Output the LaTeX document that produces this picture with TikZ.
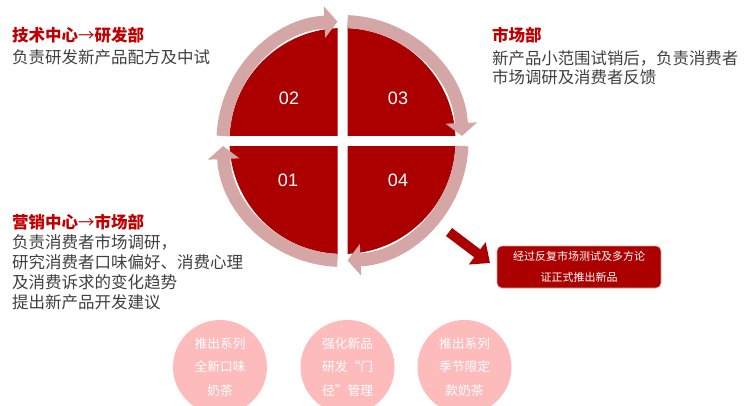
\documentclass[tikz,border=0pt]{standalone}
\usepackage{fontspec}
\setmainfont{Liberation Sans}
\newfontfamily\cjk{Noto Sans CJK SC}
\usetikzlibrary{arrows.meta,calc}
\definecolor{qred}{RGB}{172,0,0}
\definecolor{ringpink}{RGB}{212,166,166}
\definecolor{ttlred}{RGB}{192,0,0}
\definecolor{bodygray}{RGB}{64,64,64}
\definecolor{bubblepink}{RGB}{253,187,187}
\newcommand{\thinarrow}{{\mdseries→}}
\begin{document}
\begin{tikzpicture}[x=1pt,y=1pt,
  quad/.style={fill=qred},
  ringarrow/.style={draw=ringpink, line width=13pt, -{Triangle[width=31pt,length=13pt]}},
  num/.style={text=white, font=\fontsize{18}{18}\selectfont, inner sep=0},
  ttl/.style={anchor=west, text=ttlred, font=\cjk\bfseries\fontsize{16.5}{19}\selectfont, inner sep=0},
  body/.style={anchor=north west, align=left, text=bodygray, inner sep=0},
  bubble/.style={circle, fill=bubblepink, minimum size=94pt, inner sep=0, text=white, align=center, font=\cjk\fontsize{12.75}{23.5}\selectfont},
  notebox/.style={rounded corners=5pt, fill=qred, draw=ringpink, line width=0.6pt, minimum width=164pt, minimum height=42pt, text=white, align=center, font=\cjk\fontsize{11}{21}\selectfont, inner sep=0}
]
\useasboundingbox (0,0) rectangle (749,405);
\coordinate (C) at (342.5,264);
% quadrants
\begin{scope}\clip (200,269) rectangle (337.5,400); \fill[quad] (C) circle[radius=113]; \end{scope}
\begin{scope}\clip (347.5,269) rectangle (480,400); \fill[quad] (C) circle[radius=113]; \end{scope}
\begin{scope}\clip (200,100) rectangle (337.5,259); \fill[quad] (C) circle[radius=113]; \end{scope}
\begin{scope}\clip (347.5,100) rectangle (480,259); \fill[quad] (C) circle[radius=113]; \end{scope}
% ring arrows
\draw[ringarrow] ($(C)+(177.6:119.5)$) arc[start angle=177.6, end angle=92.4, radius=119.5];
\draw[ringarrow] ($(C)+(87.6:119.5)$) arc[start angle=87.6, end angle=2.4, radius=119.5];
\draw[ringarrow] ($(C)+(-2.4:119.5)$) arc[start angle=-2.4, end angle=-87.6, radius=119.5];
\draw[ringarrow] ($(C)+(-92.4:119.5)$) arc[start angle=-92.4, end angle=-177.6, radius=119.5];
% numbers
\node[num] (n02) at (289,307) {02};
\node[num] (n03) at (398,307) {03};
\node[num] (n01) at (288,225) {01};
\node[num] (n04) at (398,225) {04};
% texts
\node[ttl] (t1) at (12,370) {技术中心\thinarrow 研发部};
\node[body, font=\cjk\fontsize{16.5}{19.5}\selectfont] (b1) at (12,355.5) {负责研发新产品配方及中试};
\node[ttl] (t2) at (492,370) {市场部};
\node[body, font=\cjk\fontsize{16.4}{19.5}\selectfont] (b2) at (492,355) {新产品小范围试销后，负责消费者\\市场调研及消费者反馈};
\node[ttl] (t3) at (12,183) {营销中心\thinarrow 市场部};
\node[body, font=\cjk\fontsize{16.5}{20}\selectfont] (b3) at (12,171) {负责消费者市场调研，\\研究消费者口味偏好、消费心理\\及消费诉求的变化趋势\\提出新产品开发建议};
% red arrow and box
\coordinate (arrS) at (449,173);
\node[notebox] (box) at (579,138) {经过反复市场测试及多方论\\证正式推出新品};
\coordinate (arrE) at (490,142);
\draw[qred, line width=10pt, -{Triangle[width=27pt,length=16pt]}] (arrS) -- (arrE);
% bubbles
\node[bubble] (c1) at (220,38) {推出系列\\全新口味\\奶茶};
\node[bubble] (c2) at (347.5,38) {强化新品\\研发“门\\径”管理};
\node[bubble] (c3) at (464.5,38) {推出系列\\季节限定\\款奶茶};
\end{tikzpicture}
\end{document}
